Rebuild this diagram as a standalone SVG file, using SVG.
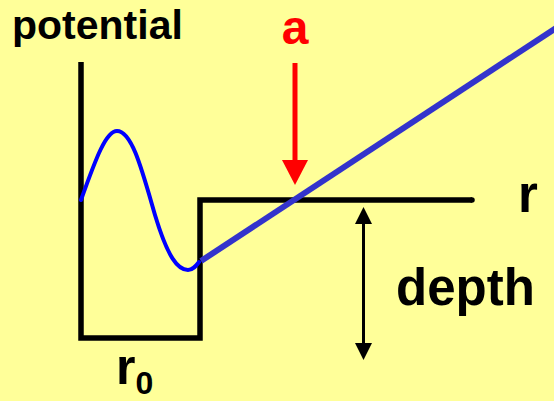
<svg xmlns="http://www.w3.org/2000/svg" width="554" height="401" viewBox="0 0 554 401">
<style>
.lbl{font-family:"Liberation Sans",Arial,sans-serif;font-weight:bold;fill:#000}
.axis{fill:none;stroke:#000;stroke-width:5.5;stroke-linejoin:miter}
</style>
<rect width="554" height="401" fill="#ffff99"/>
<g id="potential-well">
<path class="axis" d="M81,62 L81,338 L200,338 L200,200 L472,200"/>
<circle cx="472" cy="200" r="2.75" fill="#000"/>
</g>
<g id="wavefunction">
<path d="M81,200 C96,158 106,131 117,131 C132,131 142,170 155,215 C168,258 178,270 188,270 C193,270 196,266 199,262" fill="none" stroke="#0000ff" stroke-width="4" stroke-linecap="round"/>
<path d="M201,261 L556,28" fill="none" stroke="#3333cc" stroke-width="6"/>
</g>
<g id="connectors">
<line x1="295" y1="63" x2="295" y2="165" stroke="#ff0000" stroke-width="5"/>
<path d="M282,160 L308,160 L295,185 Z" fill="#ff0000"/>
<line x1="363.5" y1="222" x2="363.5" y2="345" stroke="#000" stroke-width="3"/>
<path d="M355,224 L372,224 L363.5,207 Z" fill="#000"/>
<path d="M355,343 L372,343 L363.5,360 Z" fill="#000"/>
</g>
<g id="labels">
<text class="lbl" x="12" y="39" font-size="41">potential</text>
<text class="lbl" x="295" y="44" font-size="48" text-anchor="middle" style="fill:#ff0000">a</text>
<text class="lbl" x="518" y="212" font-size="51">r</text>
<text class="lbl" x="396" y="305" font-size="51">depth</text>
<text class="lbl" x="116" y="384" font-size="50">r<tspan font-size="32" dy="10">0</tspan></text>
</g>
</svg>
